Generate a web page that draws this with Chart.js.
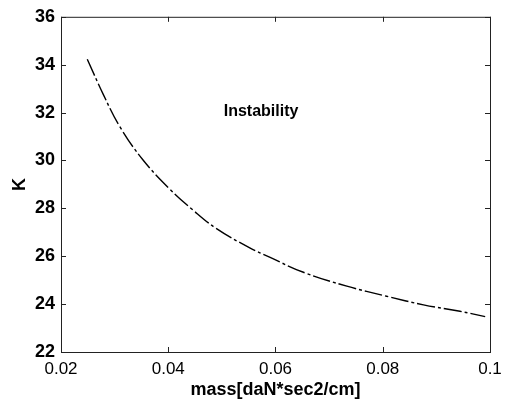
<!DOCTYPE html>
<html>
<head>
<meta charset="utf-8">
<script src="https://cdn.jsdelivr.net/npm/chart.js@4.4.1/dist/chart.umd.min.js"></script>
<style>
  html, body { margin: 0; padding: 0; background: #fff; }
  #wrap { width: 510px; height: 399px; }
</style>
</head>
<body>
<div id="wrap"><canvas id="myChart" width="510" height="399"></canvas></div>
<script>
// values
const mass = [0.0249, 0.0279, 0.031, 0.0353, 0.0403, 0.0445, 0.049, 0.0552, 0.059, 0.0652, 0.0733, 0.0807, 0.0876, 0.0944, 0.0991];
const kValues = [34.23, 32.75, 31.4, 30.02, 28.8, 27.95, 27.15, 26.35, 25.95, 25.33, 24.75, 24.33, 23.97, 23.7, 23.48];
const xTicks = [0.02, 0.04, 0.06, 0.08, 0.1];
const xTickLabels = ['0.02', '0.04', '0.06', '0.08', '0.1'];
const yTicks = [22, 24, 26, 28, 30, 32, 34, 36];
const noteText = 'Instability';
const notePos = [0.0573, 32.05];

const ctx = document.getElementById('myChart');

// box round the plot + inward ticks, matlab style
const frame = {
  id: 'frame',
  afterDraw(chart) {
    const c = chart.ctx, a = chart.chartArea;
    const xs = chart.scales.x, ys = chart.scales.y;
    c.save();
    c.strokeStyle = '#222';
    c.lineWidth = 1;
    c.strokeRect(a.left + 0.5, a.top + 0.5, a.right - a.left, a.bottom - a.top);
    c.beginPath();
    xTicks.forEach(v => {
      const px = Math.round(xs.getPixelForValue(v)) + 0.5;
      c.moveTo(px, a.bottom); c.lineTo(px, a.bottom - 5);
      c.moveTo(px, a.top); c.lineTo(px, a.top + 5);
    });
    yTicks.forEach(v => {
      const py = Math.round(ys.getPixelForValue(v)) + 0.5;
      c.moveTo(a.left, py); c.lineTo(a.left + 5, py);
      c.moveTo(a.right, py); c.lineTo(a.right - 5, py);
    });
    c.stroke();
    c.fillStyle = '#000';
    c.font = 'bold 16px "Liberation Sans", Arial, sans-serif';
    c.textAlign = 'center';
    c.textBaseline = 'middle';
    c.fillText(noteText, xs.getPixelForValue(notePos[0]), ys.getPixelForValue(notePos[1]));
    c.restore();
  }
};

new Chart(ctx, {
  type: 'line',
  data: {
    datasets: [{
      data: mass.map((m, i) => ({x: m, y: kValues[i]})),
      borderColor: '#000',
      borderWidth: 1.4,
      borderDash: [18, 3, 3, 3],
      pointRadius: 0,
      tension: 0.4,
      fill: false
    }]
  },
  options: {
    responsive: false,
    animation: false,
    layout: { padding: { top: 12, right: 20, left: 0, bottom: 0 } },
    plugins: {
      legend: { display: false },
      tooltip: { enabled: false },
      title: { display: false }
    },
    scales: {
      x: {
        type: 'linear',
        min: 0.02,
        max: 0.1,
        afterBuildTicks: s => { s.ticks = xTicks.map(v => ({value: v})); },
        afterFit: s => { s.height = 47; },
        grid: { drawOnChartArea: false, drawTicks: false },
        border: { display: false },
        ticks: {
          color: '#000',
          padding: 7,
          maxRotation: 0,
          font: { family: '"Liberation Sans", Arial, sans-serif', size: 17 },
          callback: (v) => xTickLabels[xTicks.indexOf(v)] || ''
        },
        title: {
          display: true,
          text: 'mass[daN*sec2/cm]',
          color: '#000',
          padding: { top: 0, bottom: 0 },
          font: { family: '"Liberation Sans", Arial, sans-serif', size: 18, weight: 'bold', lineHeight: 1 }
        }
      },
      y: {
        min: 22,
        max: 36,
        afterBuildTicks: s => { s.ticks = yTicks.map(v => ({value: v})); },
        afterFit: s => { s.width = 61; },
        grid: { drawOnChartArea: false, drawTicks: false },
        border: { display: false },
        ticks: {
          color: '#000',
          padding: 6,
          font: { family: '"Liberation Sans", Arial, sans-serif', size: 18, weight: 'bold' }
        },
        title: {
          display: true,
          text: 'K',
          color: '#000',
          padding: { top: 9, bottom: 0 },
          font: { family: '"Liberation Sans", Arial, sans-serif', size: 18, weight: 'bold' }
        }
      }
    }
  },
  plugins: [frame]
});
</script>
</body>
</html>
